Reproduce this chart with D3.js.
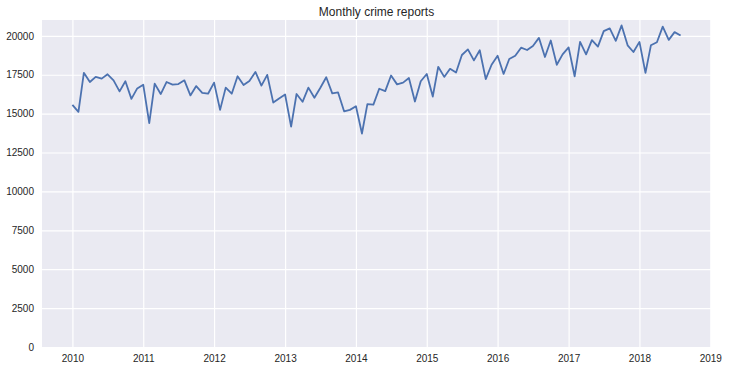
<!DOCTYPE html>
<html>
<head>
	<title>Monthly crime reports</title>
	<script src="https://d3js.org/d3.v7.min.js"></script>
</head>

<body>
	<svg height="370" width="729"></svg>
</body>

<script type="text/javascript">
	// months from Jan 2010 to Aug 2018
	const startMonth = "2010-01";

	const reports = [
		15560, 15110, 17620, 17030, 17360, 17250, 17530, 17140, 16430, 17080, 15950, 16620,
		16860, 14390, 16930, 16260, 17030, 16860, 16900, 17140, 16170, 16770, 16340, 16280,
		16990, 15240, 16670, 16280, 17400, 16840, 17100, 17680, 16800, 17490, 15710, 15970,
		16230, 14160, 16260, 15760, 16670, 16020, 16650, 17340, 16300, 16360, 15150, 15240,
		15480, 13720, 15610, 15580, 16600, 16450, 17450, 16880, 16990, 17290, 15780, 17080,
		17550, 16100, 18010, 17360, 17880, 17640, 18770, 19130, 18420, 19070, 17220, 18140,
		18720, 17550, 18510, 18720, 19240, 19090, 19350, 19870, 18640, 19700, 18140, 18810,
		19260, 17400, 19610, 18810, 19720, 19310, 20300, 20480, 19680, 20670, 19390, 18960,
		19610, 17620, 19390, 19590, 20590, 19740, 20240, 20020
	];

	const yTicks = [0, 2500, 5000, 7500, 10000, 12500, 15000, 17500, 20000];
	const xTickYears = [2010, 2011, 2012, 2013, 2014, 2015, 2016, 2017, 2018, 2019];

	const parseMonth = d3.timeParse("%Y-%m");
	const first = parseMonth(startMonth);
	const data = reports.map((v, i) => ({date: d3.timeMonth.offset(first, i), value: v}));

	const svg = d3.select("svg");
	const margin = {top: 20, right: 18, bottom: 23, left: 42};
	const width = svg.attr("width") - margin.left - margin.right;
	const height = svg.attr("height") - margin.top - margin.bottom;

	// matplotlib style 5% margins
	const t0 = data[0].date, t1 = data[data.length - 1].date;
	const pad = (t1 - t0) * 0.05;
	const xscale = d3.scaleTime()
		.domain([new Date(+t0 - pad), new Date(+t1 + pad)])
		.range([0, width]);

	const minV = d3.min(reports), maxV = d3.max(reports);
	const yscale = d3.scaleLinear()
		.domain([0, maxV + (maxV - minV) * 0.05])
		.range([height, 0]);

	const g = svg.append("g")
		.attr("transform", "translate(" + margin.left + "," + margin.top + ")");

	g.append("rect")
		.attr("width", width)
		.attr("height", height)
		.style("fill", "#eaeaf2");

	const xAxis = d3.axisBottom(xscale)
		.tickValues(xTickYears.map(y => new Date(y, 0, 1)))
		.tickFormat(d3.timeFormat("%Y"))
		.tickSize(-height)
		.tickPadding(8);

	const yAxis = d3.axisLeft(yscale)
		.tickValues(yTicks)
		.tickFormat(d3.format("d"))
		.tickSize(-width)
		.tickPadding(8);

	g.append("g").attr("class", "axis")
		.attr("transform", "translate(0," + height + ")")
		.call(xAxis);

	g.append("g").attr("class", "axis")
		.call(yAxis);

	g.selectAll(".axis .domain").remove();

	const line = d3.line()
		.x(d => xscale(d.date))
		.y(d => yscale(d.value));

	g.append("path")
		.datum(data)
		.attr("d", line)
		.style("fill", "none")
		.style("stroke", "#4c72b0")
		.style("stroke-width", 1.8)
		.style("stroke-linejoin", "round");

	svg.append("text")
		.attr("x", margin.left + width / 2)
		.attr("y", 16)
		.attr("text-anchor", "middle")
		.attr("class", "title")
		.text("Monthly crime reports");
</script>

<style type="text/css">
	body {
		margin: 0;
		background: #fff;
	}

	svg {
		display: block;
		font-family: "Liberation Sans", Arial, sans-serif;
	}

	.axis line {
		stroke: #fff;
		stroke-width: 1.2;
	}

	.axis text {
		font-size: 10px;
		fill: #262626;
	}

	.title {
		font-size: 12px;
		fill: #262626;
	}
</style>

</html>
